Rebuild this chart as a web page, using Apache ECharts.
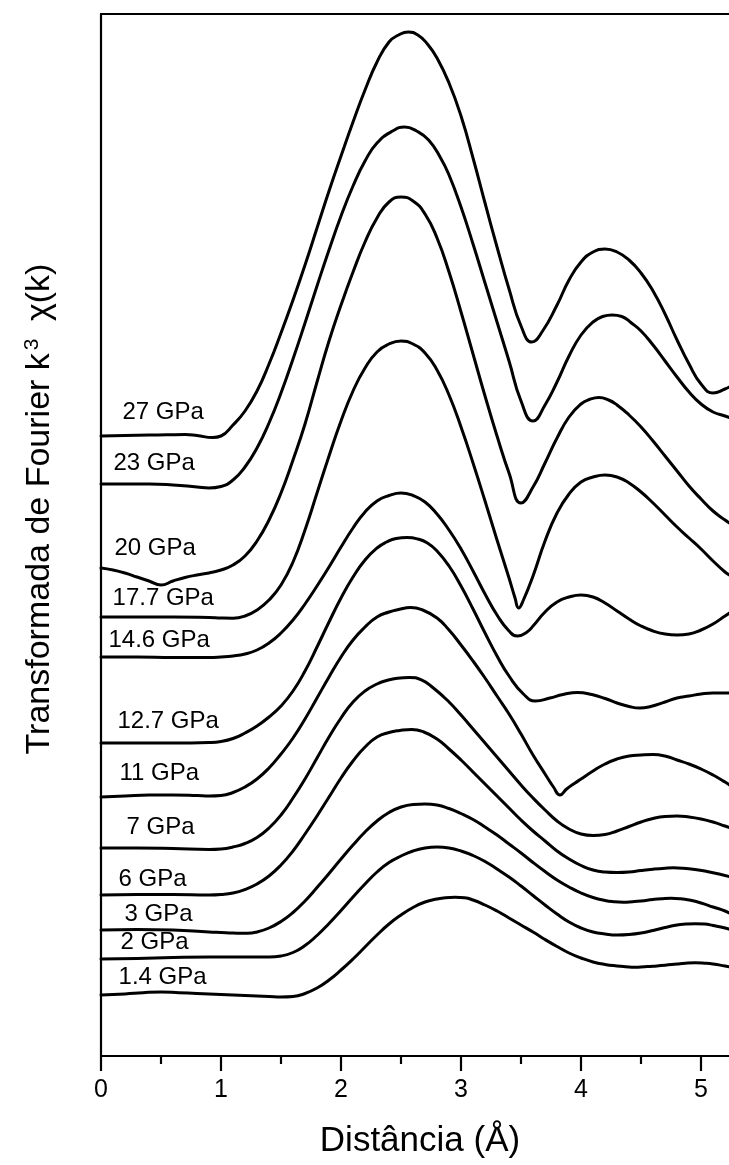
<!DOCTYPE html>
<html>
<head>
<meta charset="utf-8">
<title>Transformada de Fourier k3 χ(k)</title>
<script src="https://cdn.jsdelivr.net/npm/echarts@6/dist/echarts.min.js"></script>
<style>
  html, body { margin: 0; padding: 0; background: #fff; }
  #chart { width: 729px; height: 1165px; }
</style>
</head>
<body>
<div id="chart"></div>
<script>
// Fourier-transform magnitude of k^3 chi(k) versus distance, one trace per pressure,
// each trace stacked with its own vertical offset (arbitrary units).
// Pairs: [distance in Å, offset magnitude]
const p27 = [[0,62.0],[0.2,62.05],[0.4,62.1],[0.55,62.12],[0.7,62.15],[0.8,62.05],[0.93,61.85],[1.0,62.0],[1.1,63.1],[1.2,64.5],[1.3,66.5],[1.4,69.2],[1.5,72.3],[1.6,75.6],[1.7,79.1],[1.8,82.8],[1.9,86.5],[2.0,90.0],[2.1,93.4],[2.2,96.6],[2.3,99.4],[2.4,101.4],[2.48,102.1],[2.56,102.4],[2.64,102.1],[2.72,101.2],[2.8,99.8],[2.9,97.3],[3.0,94.0],[3.1,89.8],[3.2,85.3],[3.3,80.9],[3.4,76.7],[3.5,73.0],[3.59,71.4],[3.68,72.5],[3.8,75.1],[3.9,77.6],[4.0,79.4],[4.1,80.4],[4.2,80.7],[4.3,80.4],[4.4,79.6],[4.5,78.3],[4.6,76.5],[4.7,74.2],[4.8,71.6],[4.9,69.2],[5.0,67.2],[5.1,66.3],[5.2,66.7],[5.25,67.0]];
const p23 = [[0,57.2],[0.2,57.2],[0.4,57.2],[0.6,57.1],[0.8,56.9],[0.9,56.8],[1.0,56.95],[1.1,57.6],[1.2,58.9],[1.3,60.8],[1.4,63.3],[1.5,66.3],[1.6,69.7],[1.7,73.3],[1.8,77.0],[1.9,80.6],[2.0,84.0],[2.1,87.0],[2.2,89.5],[2.3,91.3],[2.43,92.5],[2.53,92.9],[2.63,92.5],[2.73,91.6],[2.83,89.8],[2.9,88.1],[3.0,84.9],[3.1,81.2],[3.2,77.3],[3.3,73.4],[3.4,69.5],[3.5,65.5],[3.6,63.5],[3.7,65.1],[3.8,67.4],[3.9,70.0],[4.0,72.1],[4.1,73.4],[4.18,73.95],[4.26,74.1],[4.34,73.95],[4.42,73.3],[4.5,72.5],[4.6,71.1],[4.7,69.5],[4.8,67.9],[4.9,66.4],[5.0,65.2],[5.1,64.4],[5.2,64.0],[5.25,63.8]];
const p20 = [[0,48.8],[0.1,48.6],[0.2,48.3],[0.3,47.9],[0.4,47.5],[0.5,47.1],[0.6,47.5],[0.7,47.85],[0.8,48.1],[0.9,48.3],[1.0,48.6],[1.1,49.1],[1.2,50.0],[1.3,51.5],[1.4,53.6],[1.5,56.3],[1.6,59.6],[1.7,63.2],[1.8,67.4],[1.9,71.5],[2.0,75.1],[2.1,78.4],[2.2,81.4],[2.3,83.8],[2.4,85.4],[2.5,85.9],[2.6,85.5],[2.7,84.2],[2.8,81.8],[2.9,78.4],[3.0,74.4],[3.1,70.2],[3.2,66.0],[3.3,62.0],[3.4,58.3],[3.5,55.3],[3.6,56.9],[3.7,59.3],[3.8,61.8],[3.9,63.9],[4.0,65.2],[4.07,65.65],[4.15,65.85],[4.23,65.6],[4.3,65.1],[4.4,64.1],[4.5,62.9],[4.6,61.5],[4.7,60.0],[4.8,58.5],[4.9,57.0],[5.0,55.7],[5.1,54.5],[5.2,53.6],[5.25,53.2]];
const p17_7 = [[0,43.9],[0.3,43.9],[0.6,43.9],[0.9,43.85],[1.0,43.8],[1.1,43.78],[1.2,44.0],[1.3,44.6],[1.4,45.6],[1.5,47.1],[1.6,49.4],[1.7,52.6],[1.8,56.3],[1.9,60.0],[2.0,63.5],[2.1,66.5],[2.2,68.8],[2.3,70.4],[2.4,71.2],[2.5,71.5],[2.6,71.2],[2.7,70.3],[2.8,68.6],[2.9,66.1],[3.0,62.9],[3.1,59.3],[3.2,55.5],[3.3,51.6],[3.4,47.8],[3.45,45.8],[3.48,44.8],[3.52,45.6],[3.6,48.0],[3.7,51.5],[3.8,54.3],[3.9,56.2],[4.0,57.4],[4.1,57.9],[4.2,58.1],[4.3,57.9],[4.4,57.3],[4.5,56.4],[4.6,55.3],[4.7,54.1],[4.8,52.9],[4.9,51.8],[5.0,50.7],[5.1,49.5],[5.2,48.4],[5.25,48.0]];
const p14_6 = [[0,39.9],[0.3,39.9],[0.6,39.85],[0.9,39.85],[1.0,39.9],[1.1,40.0],[1.2,40.2],[1.3,40.6],[1.4,41.3],[1.5,42.3],[1.6,43.6],[1.7,45.2],[1.8,47.0],[1.9,48.9],[2.0,50.9],[2.1,52.8],[2.2,54.4],[2.3,55.5],[2.4,56.05],[2.5,56.3],[2.6,56.05],[2.7,55.4],[2.8,54.2],[2.9,52.6],[3.0,50.7],[3.1,48.5],[3.2,46.2],[3.3,44.1],[3.4,42.5],[3.47,42.0],[3.55,42.4],[3.6,43.0],[3.7,44.4],[3.8,45.4],[3.9,45.9],[4.0,46.1],[4.1,45.9],[4.2,45.3],[4.3,44.5],[4.4,43.7],[4.5,43.0],[4.6,42.5],[4.7,42.2],[4.8,42.1],[4.9,42.2],[5.0,42.6],[5.1,43.2],[5.2,44.0],[5.25,44.4]];
const p12_7 = [[0,31.3],[0.3,31.3],[0.6,31.3],[0.9,31.35],[1.0,31.45],[1.1,31.75],[1.2,32.3],[1.3,33.0],[1.4,33.9],[1.5,35.0],[1.6,36.5],[1.7,38.5],[1.8,40.9],[1.9,43.4],[2.0,45.8],[2.1,47.9],[2.2,49.6],[2.3,50.8],[2.38,51.4],[2.46,51.75],[2.55,51.85],[2.64,51.7],[2.72,51.3],[2.8,50.5],[2.9,49.0],[3.0,47.0],[3.1,44.7],[3.2,42.3],[3.3,40.0],[3.4,38.0],[3.52,36.2],[3.62,35.5],[3.74,35.8],[3.85,36.15],[3.97,36.35],[4.09,36.15],[4.2,35.75],[4.3,35.3],[4.4,34.95],[4.49,34.8],[4.58,34.95],[4.7,35.4],[4.8,35.8],[4.9,36.0],[5.0,36.2],[5.1,36.3],[5.25,36.3]];
const p11 = [[0,25.9],[0.2,26.0],[0.4,26.1],[0.6,26.1],[0.8,26.05],[0.9,26.0],[1.0,26.05],[1.1,26.35],[1.2,26.9],[1.3,27.7],[1.4,28.8],[1.5,30.2],[1.6,31.8],[1.7,33.7],[1.8,35.8],[1.9,37.9],[2.0,39.9],[2.1,41.6],[2.2,42.9],[2.3,43.9],[2.4,44.4],[2.48,44.65],[2.58,44.85],[2.68,44.6],[2.8,43.8],[2.9,42.6],[3.0,41.1],[3.1,39.5],[3.2,37.8],[3.3,36.0],[3.4,34.2],[3.5,32.2],[3.6,30.1],[3.7,28.2],[3.77,26.9],[3.825,26.1],[3.88,26.7],[3.95,27.3],[4.0,27.7],[4.1,28.5],[4.2,29.2],[4.3,29.7],[4.4,30.0],[4.5,30.1],[4.6,30.15],[4.7,30.0],[4.8,29.6],[4.9,29.2],[5.0,28.7],[5.1,28.1],[5.2,27.4],[5.25,27.0]];
const p7 = [[0,20.8],[0.3,20.8],[0.6,20.75],[0.9,20.65],[1.0,20.7],[1.1,20.9],[1.2,21.25],[1.3,21.85],[1.4,22.8],[1.5,24.1],[1.6,25.8],[1.7,27.7],[1.8,29.8],[1.9,31.9],[2.0,33.8],[2.1,35.4],[2.2,36.5],[2.3,37.2],[2.38,37.55],[2.47,37.78],[2.57,37.85],[2.67,37.62],[2.77,36.8],[2.9,35.4],[3.0,34.1],[3.1,32.7],[3.2,31.3],[3.3,29.9],[3.4,28.5],[3.5,27.1],[3.6,25.8],[3.7,24.6],[3.8,23.5],[3.9,22.7],[4.0,22.2],[4.1,22.05],[4.2,22.15],[4.3,22.5],[4.4,22.95],[4.5,23.4],[4.6,23.75],[4.7,23.95],[4.8,24.0],[4.9,23.9],[5.0,23.7],[5.1,23.4],[5.2,23.0],[5.25,22.8]];
const p6 = [[0,16.1],[0.3,16.15],[0.6,16.15],[0.9,16.1],[1.0,16.15],[1.1,16.3],[1.2,16.65],[1.3,17.2],[1.4,18.0],[1.5,19.1],[1.6,20.5],[1.7,22.2],[1.8,24.0],[1.9,25.9],[2.0,27.8],[2.1,29.5],[2.2,30.9],[2.3,31.9],[2.4,32.35],[2.49,32.55],[2.59,32.65],[2.69,32.4],[2.8,31.7],[2.9,30.7],[3.0,29.6],[3.1,28.4],[3.2,27.2],[3.3,26.0],[3.4,24.8],[3.5,23.6],[3.6,22.5],[3.7,21.5],[3.8,20.5],[3.9,19.7],[4.0,19.05],[4.1,18.6],[4.2,18.4],[4.3,18.35],[4.4,18.4],[4.5,18.55],[4.6,18.68],[4.7,18.78],[4.77,18.82],[4.85,18.78],[4.95,18.65],[5.05,18.45],[5.15,18.2],[5.25,17.9]];
const p3 = [[0,12.6],[0.3,12.65],[0.6,12.6],[0.9,12.4],[1.0,12.35],[1.1,12.3],[1.22,12.27],[1.3,12.4],[1.4,12.8],[1.5,13.45],[1.6,14.35],[1.7,15.5],[1.8,16.85],[1.9,18.25],[2.0,19.7],[2.1,21.1],[2.2,22.4],[2.3,23.5],[2.4,24.35],[2.5,24.9],[2.6,25.15],[2.7,25.2],[2.8,25.1],[2.9,24.75],[3.0,24.25],[3.1,23.65],[3.2,22.9],[3.3,22.1],[3.4,21.2],[3.5,20.3],[3.6,19.35],[3.7,18.45],[3.8,17.6],[3.9,16.9],[4.0,16.3],[4.1,15.85],[4.2,15.55],[4.27,15.43],[4.35,15.38],[4.43,15.43],[4.5,15.5],[4.6,15.65],[4.67,15.73],[4.75,15.78],[4.83,15.73],[4.9,15.6],[5.0,15.3],[5.1,14.9],[5.2,14.5],[5.25,14.2]];
const p2 = [[0,9.7],[0.3,9.75],[0.6,9.85],[0.9,9.9],[1.2,9.9],[1.4,9.9],[1.5,10.0],[1.6,10.35],[1.7,11.05],[1.8,12.05],[1.9,13.25],[2.0,14.55],[2.1,15.9],[2.2,17.2],[2.3,18.4],[2.4,19.35],[2.5,20.0],[2.6,20.5],[2.7,20.8],[2.8,20.9],[2.9,20.8],[3.0,20.5],[3.1,20.05],[3.2,19.45],[3.3,18.7],[3.4,17.9],[3.5,17.0],[3.6,16.05],[3.7,15.1],[3.8,14.2],[3.9,13.4],[4.0,12.8],[4.1,12.4],[4.2,12.2],[4.3,12.1],[4.4,12.15],[4.5,12.3],[4.6,12.55],[4.7,12.85],[4.8,13.1],[4.87,13.19],[4.95,13.23],[5.03,13.19],[5.1,13.05],[5.2,12.8],[5.25,12.6]];
const p1_4 = [[0,6.1],[0.2,6.2],[0.35,6.33],[0.5,6.4],[0.65,6.33],[0.8,6.25],[1.0,6.15],[1.2,6.05],[1.4,5.95],[1.5,5.9],[1.6,5.95],[1.7,6.25],[1.8,6.8],[1.9,7.6],[2.0,8.6],[2.1,9.7],[2.2,10.9],[2.3,12.1],[2.4,13.2],[2.5,14.1],[2.6,14.85],[2.7,15.4],[2.8,15.7],[2.87,15.83],[2.95,15.87],[3.03,15.82],[3.1,15.6],[3.2,15.1],[3.3,14.5],[3.4,13.8],[3.5,13.1],[3.6,12.4],[3.7,11.65],[3.8,10.95],[3.9,10.3],[4.0,9.8],[4.1,9.4],[4.2,9.15],[4.3,9.0],[4.37,8.93],[4.45,8.88],[4.53,8.93],[4.6,8.98],[4.7,9.07],[4.8,9.2],[4.87,9.28],[4.95,9.32],[5.03,9.28],[5.1,9.2],[5.2,9.0],[5.25,8.9]];

const pressureNames = ['27 GPa', '23 GPa', '20 GPa', '17.7 GPa', '14.6 GPa', '12.7 GPa', '11 GPa', '7 GPa', '6 GPa', '3 GPa', '2 GPa', '1.4 GPa'];
const curves = [p27, p23, p20, p17_7, p14_6, p12_7, p11, p7, p6, p3, p2, p1_4];
const xMajorTicks = [0, 1, 2, 3, 4, 5];
const xMinorTicks = [0.5, 1.5, 2.5, 3.5, 4.5];

// Where each pressure tag sits (left edge, vertical centre) in axis units
const tagAnchors = [[0.175,64.4],[0.1,59.3],[0.108,50.8],[0.092,45.8],[0.058,41.6],[0.133,33.5],[0.15,28.3],[0.208,22.9],[0.142,17.7],[0.192,14.2],[0.158,11.4],[0.142,7.9]];

const X_MAX = 5.233;
const FONT = '"Liberation Sans", Arial, Helvetica, sans-serif';
const chart = echarts.init(document.getElementById('chart'), null, { renderer: 'canvas' });

const series = curves.map((pts, i) => ({
  type: 'line',
  name: pressureNames[i],
  data: pts,
  xAxisIndex: 0,
  yAxisIndex: 0,
  smooth: 0.5,
  showSymbol: false,
  symbol: 'none',
  clip: true,
  lineStyle: { color: '#000', width: 3, join: 'round', cap: 'round' },
  markPoint: {
    symbol: 'circle',
    symbolSize: 1,
    itemStyle: { color: 'rgba(0,0,0,0)' },
    label: {
      show: true,
      position: 'right',
      distance: 0,
      formatter: '{b}',
      color: '#000',
      fontSize: 24,
      fontFamily: FONT
    },
    data: [{ name: pressureNames[i], coord: tagAnchors[i] }]
  }
}));

const bareAxis = {
  type: 'value', min: 0, max: X_MAX,
  splitLine: { show: false }, minorSplitLine: { show: false }
};

chart.setOption({
  animation: false,
  backgroundColor: '#fff',
  grid: { left: 101, right: 0, top: 14, bottom: 109, containLabel: false, outerBoundsMode: 'none' },
  xAxis: [
    Object.assign({}, bareAxis, {
      position: 'bottom',
      axisLine: { show: true, onZero: false, lineStyle: { color: '#000', width: 2.2 } },
      axisTick: { show: true, inside: false, length: 15, customValues: xMajorTicks, lineStyle: { color: '#000', width: 2.2 } },
      axisLabel: { show: true, margin: 22, color: '#000', fontSize: 25, fontFamily: FONT, customValues: xMajorTicks }
    }),
    Object.assign({}, bareAxis, {
      position: 'top',
      axisLine: { show: true, onZero: false, lineStyle: { color: '#000', width: 2.2 } },
      axisTick: { show: false }, axisLabel: { show: false }
    }),
    Object.assign({}, bareAxis, {
      position: 'bottom',
      axisLine: { show: false, onZero: false },
      axisTick: { show: true, inside: false, length: 8, customValues: xMinorTicks, lineStyle: { color: '#000', width: 2.2 } },
      axisLabel: { show: false }
    })
  ],
  yAxis: {
    type: 'value', min: 0, max: 104.2,
    axisLine: { show: true, onZero: false, lineStyle: { color: '#000', width: 2.2 } },
    axisTick: { show: false }, axisLabel: { show: false }, splitLine: { show: false }
  },
  graphic: [
    {
      type: 'text', x: 420, y: 1141,
      style: { text: 'Distância (Å)', font: '35px ' + FONT, fill: '#000', align: 'center', verticalAlign: 'middle' }
    },
    {
      type: 'text', x: 40, y: 509, rotation: Math.PI / 2,
      style: {
        text: 'Transformada de Fourier k{sup|3} χ(k)',
        font: '34px ' + FONT, fill: '#000', align: 'center', verticalAlign: 'middle',
        rich: {
          sup: { fontSize: 21, fontFamily: FONT, fill: '#000', verticalAlign: 'top', padding: [0, 8, 16, 3] }
        }
      }
    }
  ],
  series: series
});
</script>
</body>
</html>
